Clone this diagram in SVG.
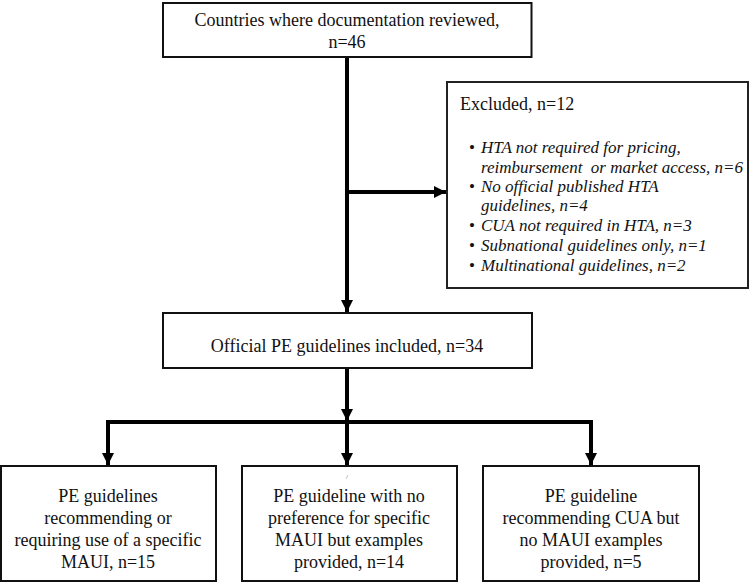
<svg xmlns="http://www.w3.org/2000/svg" width="749" height="583" viewBox="0 0 749 583">
<defs>
<style>
.box{fill:#fff;stroke:#111;stroke-width:2}
.t{font-family:"Liberation Serif","Times New Roman",serif;font-size:18px;fill:#111;text-anchor:middle}
.ex{font-family:"Liberation Serif","Times New Roman",serif;font-size:17px;fill:#111}
.it{font-style:italic}
.c{stroke:#000;stroke-width:4;fill:none}
</style>
<marker id="ah" viewBox="0 0 10 10" refX="10" refY="5" markerWidth="3" markerHeight="3" markerUnits="strokeWidth" orient="auto">
<path d="M0,0 L10,5 L0,10 z" fill="#000"/>
</marker>
</defs>
<rect width="749" height="583" fill="#fff"/>
<g id="connectors">
<line class="c" x1="347" y1="57" x2="347" y2="312" marker-end="url(#ah)"/>
<line class="c" x1="347" y1="192" x2="446" y2="192" marker-end="url(#ah)"/>
<line class="c" x1="347" y1="368" x2="347" y2="421" marker-end="url(#ah)"/>
<polyline class="c" points="108,440 108,422 591,422 591,440"/>
<line class="c" x1="108" y1="422" x2="108" y2="465" marker-end="url(#ah)"/>
<line class="c" x1="591" y1="422" x2="591" y2="465" marker-end="url(#ah)"/>
<line class="c" x1="347" y1="422" x2="347" y2="465" marker-end="url(#ah)"/>
</g>
<g id="countries">
<rect class="box" x="163" y="3" width="368.5" height="54"/>
<text class="t" x="347" y="26">Countries where documentation reviewed,</text>
<text class="t" x="347" y="48">n=46</text>
</g>
<g id="excluded">
<rect class="box" x="447" y="82" width="301" height="206" style="stroke:#222"/>
<text class="ex" x="460" y="110" style="font-size:18px">Excluded, n=12</text>
<g class="ex">
<text x="469" y="153">•</text>
<text x="469" y="192">•</text>
<text x="469" y="231">•</text>
<text x="469" y="251">•</text>
<text x="469" y="271">•</text>
</g>
<g class="ex it">
<text x="481" y="153">HTA not required for pricing,</text>
<text x="481" y="173" xml:space="preserve">reimbursement  or market access, n=6</text>
<text x="481" y="192">No official published HTA</text>
<text x="481" y="211">guidelines, n=4</text>
<text x="481" y="231">CUA not required in HTA, n=3</text>
<text x="481" y="251">Subnational guidelines only, n=1</text>
<text x="481" y="271">Multinational guidelines, n=2</text>
</g>
</g>
<g id="included">
<rect class="box" x="163" y="313" width="369" height="55"/>
<text class="t" x="347" y="352">Official PE guidelines included, n=34</text>
</g>
<g id="specific">
<rect class="box" x="1" y="466" width="215" height="115"/>
<text class="t" x="108" y="502">PE guidelines</text>
<text class="t" x="108" y="524">recommending or</text>
<text class="t" x="108" y="546">requiring use of a specific</text>
<text class="t" x="108" y="568">MAUI, n=15</text>
</g>
<g id="nopref">
<rect class="box" x="242" y="466" width="215" height="115"/>
<text x="346" y="479" style="font-family:'Liberation Serif',serif;font-size:7px;fill:#555">/</text>
<text class="t" x="349" y="502">PE guideline with no</text>
<text class="t" x="349" y="524">preference for specific</text>
<text class="t" x="349" y="546">MAUI but examples</text>
<text class="t" x="349" y="568">provided, n=14</text>
</g>
<g id="cua">
<rect class="box" x="483" y="466" width="216" height="115"/>
<text class="t" x="591" y="502">PE guideline</text>
<text class="t" x="591" y="524">recommending CUA but</text>
<text class="t" x="591" y="546">no MAUI examples</text>
<text class="t" x="591" y="568">provided, n=5</text>
</g>
</svg>
